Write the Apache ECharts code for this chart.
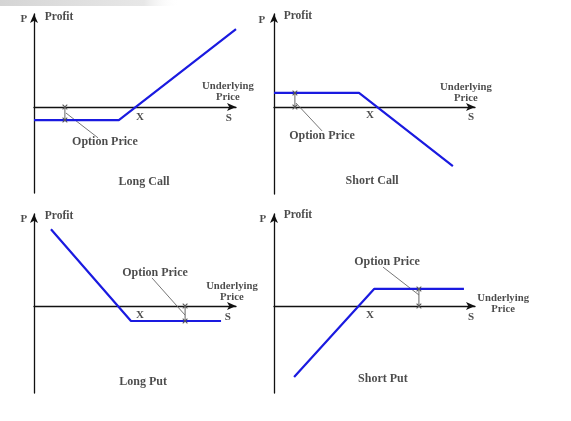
<!DOCTYPE html>
<html>
<head>
<meta charset="utf-8">
<script src="https://cdn.jsdelivr.net/npm/echarts@6/dist/echarts.min.js"></script>
<style>
html,body{margin:0;padding:0;background:#fff;}
#c{width:571px;height:421px;}
</style>
</head>
<body>
<div id="c"></div>
<script>
// ---- data (x: underlying price scale 0..100, y: profit; 0 at the x-axis) ----
const panelTitles = ['Long Call', 'Short Call', 'Long Put', 'Short Put'];
const yMax = [46, 46.3, 45.5, 45.8];
const yMin = [-42.6, -43.3, -43, -43.3];
const longCall = [[0, -6.5], [42, -6.5], [100, 38.5]];
const shortCall = [[0, 7], [42.3, 7], [89, -29.4]];
const longPut = [[8.4, 38], [48, -7.4], [92.6, -7.4]];
const shortPut = [[10, -35.3], [49.8, 8.5], [94.5, 8.5]];
const payoffs = [longCall, shortCall, longPut, shortPut];
const premium = [-6.5, 7, -7.4, 8.5];
const premiumMarkX = [15.3, 10.4, 74.8, 72.1];
const leaderFrom = [[15.8, -3], [10.9, 2], [74.8, -4.5], [72.1, 5.5]];
const leaderTo = [[31.7, -15.3], [23.9, -11.9], [58.4, 13.9], [54.2, 19.4]];
const optionPriceLabel = [[35.1, -17.3], [23.9, -14.4], [59.9, 16.3], [56.2, 21.9]];
const strikeLabel = [[52.5, -5], [47.8, -4], [52.5, -4.5], [47.8, -4.5]];
const spotLabel = [[96.5, -5.4], [98, -5], [96, -5.4], [98, -5.5]];
const underlyingLabel = [[96, 7.4], [95.5, 7.2], [98, 7.2], [114, 1.2]];
const pLabel = [[-5, 43.6], [-6, 43.3], [-5, 43], [-5.5, 43.3]];
const profitLabel = [[12.4, 44.6], [11.9, 45.3], [12.4, 44.6], [11.9, 45.3]];
const titleLabel = [[54.5, -37.1], [48.8, -36.8], [54, -37.6], [54.2, -36.3]];

// ---- layout ----
const grids = [
  {left: 34, top: 14, width: 202, height: 179},
  {left: 274, top: 14, width: 201, height: 180},
  {left: 34, top: 214, width: 202, height: 179},
  {left: 274, top: 214, width: 201, height: 179}
];
const FONT = 'Liberation Serif';
const TXT = '#1e1e1e';
const CROSS = 'path://M0,0L1.6,0L10,8.4L10,10L8.4,10L0,1.6Z M8.4,0L10,0L10,1.6L1.6,10L0,10L0,8.4Z';

const xAxes = [], yAxes = [], series = [];
grids.forEach((g, i) => {
  xAxes.push({
    type: 'value', gridIndex: i, min: 0, max: 100,
    axisLine: {show: true, onZero: true, symbol: ['none', 'arrow'], symbolSize: [6, 9],
      lineStyle: {color: '#111', width: 1.3}},
    axisTick: {show: false}, axisLabel: {show: false}, splitLine: {show: false}
  });
  yAxes.push({
    type: 'value', gridIndex: i, min: yMin[i], max: yMax[i],
    axisLine: {show: true, onZero: false, symbol: ['none', 'arrow'], symbolSize: [6, 9],
      lineStyle: {color: '#111', width: 1.3}},
    axisTick: {show: false}, axisLabel: {show: false}, splitLine: {show: false}
  });
  // payoff line
  series.push({
    type: 'line', xAxisIndex: i, yAxisIndex: i, data: payoffs[i],
    symbol: 'none', silent: true, z: 5,
    lineStyle: {color: '#1a1ae0', width: 2.2}
  });
  // option price marker
  series.push({
    type: 'line', xAxisIndex: i, yAxisIndex: i,
    data: [[premiumMarkX[i], 0], [premiumMarkX[i], premium[i]]],
    symbol: CROSS, symbolSize: [5, 5], silent: true, z: 6,
    itemStyle: {color: '#555'},
    lineStyle: {color: '#666', width: 1}
  });
  // leader line
  series.push({
    type: 'line', xAxisIndex: i, yAxisIndex: i,
    data: [leaderFrom[i], leaderTo[i]],
    symbol: 'none', silent: true, z: 4,
    lineStyle: {color: '#666', width: 0.9}
  });
  // text labels
  const lbl = (pos, name, size) => ({
    value: pos, name: name,
    label: {show: true, position: 'inside', formatter: '{b}', fontFamily: FONT,
      fontWeight: 'bold', fontSize: size, color: TXT, lineHeight: 11}
  });
  series.push({
    type: 'scatter', xAxisIndex: i, yAxisIndex: i, symbolSize: 0, clip: false, silent: true, z: 7,
    data: [
      lbl(optionPriceLabel[i], 'Option Price', 12),
      lbl(strikeLabel[i], 'X', 11),
      lbl(spotLabel[i], 'S', 11),
      lbl(underlyingLabel[i], 'Underlying\nPrice', 10.7),
      lbl(pLabel[i], 'P', 11),
      lbl(profitLabel[i], 'Profit', 11.5),
      lbl(titleLabel[i], panelTitles[i], 12)
    ]
  });
});

const chart = echarts.init(document.getElementById('c'), null, {renderer: 'canvas'});
chart.setOption({
  backgroundColor: '#ffffff',
  animation: false,
  graphic: [{
    type: 'rect', left: 0, top: 0, shape: {width: 180, height: 6}, silent: true,
    style: {fill: {type: 'linear', x: 0, y: 0, x2: 1, y2: 0, colorStops: [
      {offset: 0, color: 'rgba(205,205,205,0.85)'},
      {offset: 0.8, color: 'rgba(215,215,215,0.6)'},
      {offset: 1, color: 'rgba(255,255,255,0)'}]}}
  }],
  grid: grids,
  xAxis: xAxes,
  yAxis: yAxes,
  series: series
});
</script>
</body>
</html>
